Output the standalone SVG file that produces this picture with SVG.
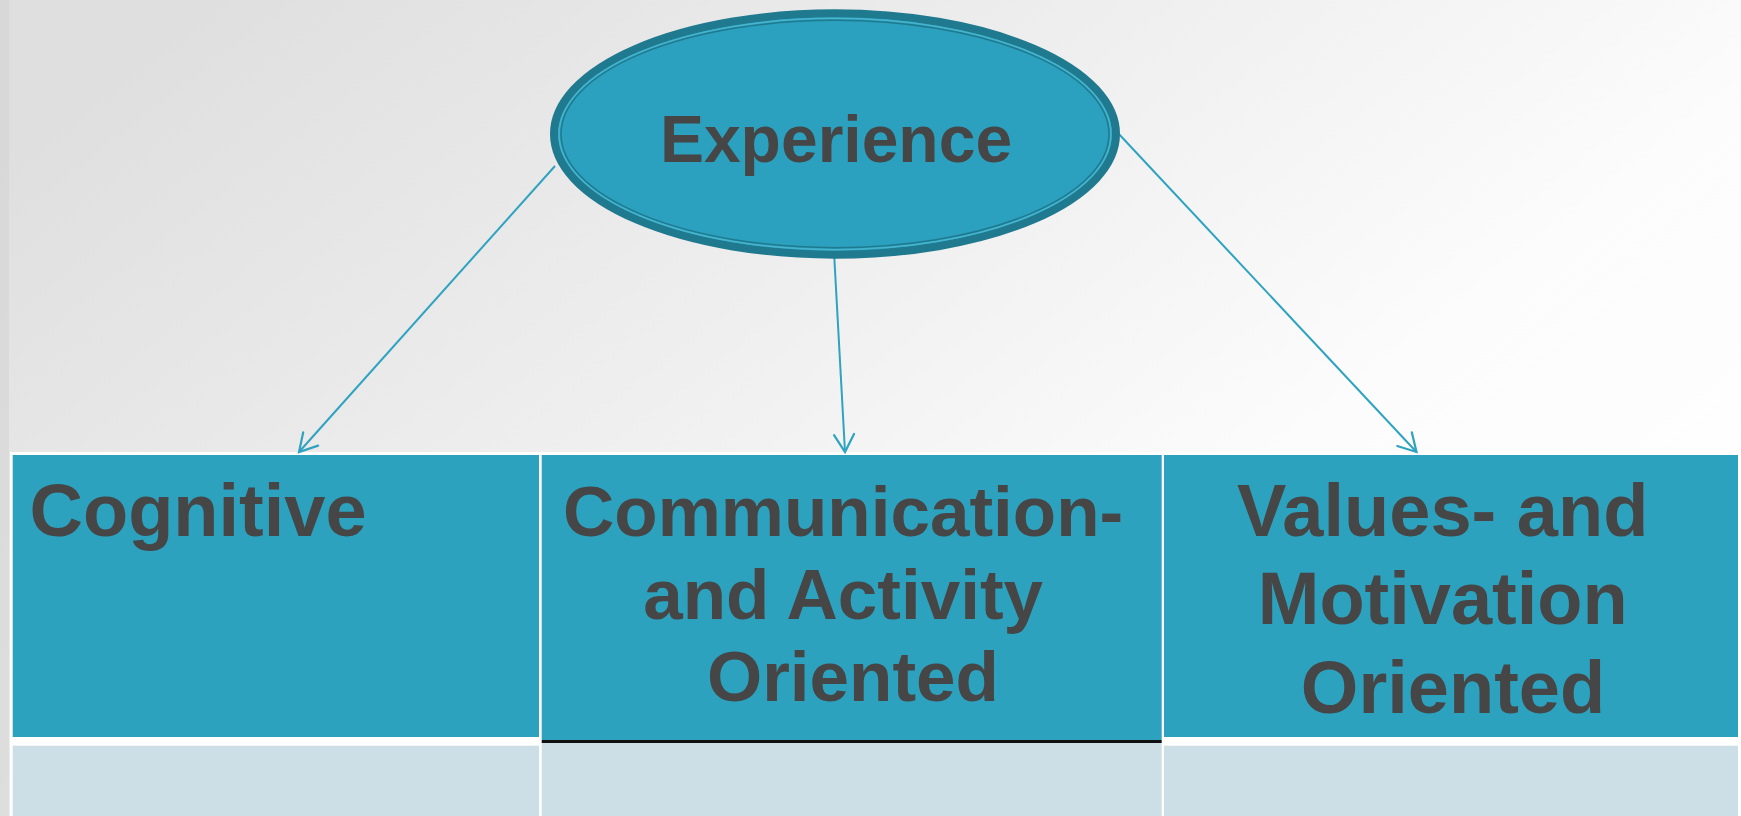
<svg xmlns="http://www.w3.org/2000/svg" width="1741" height="816" viewBox="0 0 1741 816">
  <defs>
    <linearGradient id="bg" x1="0" y1="0.2" x2="1" y2="0.8">
      <stop offset="0" stop-color="#dfdfdf"/>
      <stop offset="0.4" stop-color="#efefef"/>
      <stop offset="0.7" stop-color="#fcfcfc"/>
      <stop offset="1" stop-color="#ffffff"/>
    </linearGradient>
    <marker id="arr" markerUnits="userSpaceOnUse" markerWidth="24" markerHeight="24" viewBox="-20 -12 22 24" refX="0" refY="0" orient="auto" overflow="visible">
      <path d="M-17.5,-10 L0,0 L-17.5,10" fill="none" stroke="#2ea3c0" stroke-width="2.2" stroke-linecap="round" stroke-linejoin="miter"/>
    </marker>
    <style>
      .lbl { font-family: "Liberation Sans", Arial, sans-serif; font-weight: bold; fill: #464646; }
      .cell { fill: #2ca2bf; }
      .lite { fill: #cddfe6; }
      .conn { stroke: #2ea3c0; stroke-width: 2; fill: none; marker-end: url(#arr); }
    </style>
  </defs>

  <rect x="0" y="0" width="1741" height="816" fill="url(#bg)"/>
  <rect x="0" y="0" width="9" height="816" fill="#d4d4d4" opacity="0.6"/>

  <g id="table">
    <rect x="10" y="452" width="1731" height="364" fill="#ffffff"/>
    <g id="cognitive">
      <rect class="cell" x="12.7" y="455" width="526.3" height="282"/>
      <rect class="lite" x="12.7" y="745.7" width="526.3" height="71"/>
      <text class="lbl" x="29.5" y="536" font-size="74">Cognitive</text>
    </g>
    <g id="communication">
      <rect class="cell" x="541.7" y="455" width="620" height="285"/>
      <rect x="541.7" y="740" width="620" height="3" fill="#111111"/>
      <rect class="lite" x="541.7" y="743" width="620" height="73"/>
      <text class="lbl" text-anchor="middle" font-size="71">
        <tspan x="853" y="536">Communication-</tspan>
        <tspan x="853" y="619">and Activity</tspan>
        <tspan x="853" y="701">Oriented</tspan>
      </text>
    </g>
    <g id="values">
      <rect class="cell" x="1164" y="455" width="574" height="282"/>
      <rect class="lite" x="1164" y="745.7" width="574" height="71"/>
      <text class="lbl" text-anchor="middle" font-size="74">
        <tspan x="1453" y="536">Values- and</tspan>
        <tspan x="1453" y="624">Motivation</tspan>
        <tspan x="1453" y="713">Oriented</tspan>
      </text>
    </g>
  </g>

  <g id="connectors">
    <line class="conn" x1="555" y1="166" x2="299" y2="452"/>
    <line class="conn" x1="834" y1="252" x2="845" y2="452"/>
    <line class="conn" x1="1117" y1="132" x2="1416.5" y2="452"/>
  </g>

  <g id="experience">
    <ellipse cx="835" cy="134" rx="281" ry="120.7" fill="#2ba1bf" stroke="#1f7a8f" stroke-width="8"/>
    <ellipse cx="835" cy="134" rx="276" ry="115.7" fill="none" stroke="#47b3cc" stroke-width="1.5"/>
    <ellipse cx="835" cy="134" rx="274" ry="113.7" fill="none" stroke="#1f7a8f" stroke-width="1.5"/>
    <text class="lbl" x="836" y="162" font-size="66" text-anchor="middle">Experience</text>
  </g>
</svg>
